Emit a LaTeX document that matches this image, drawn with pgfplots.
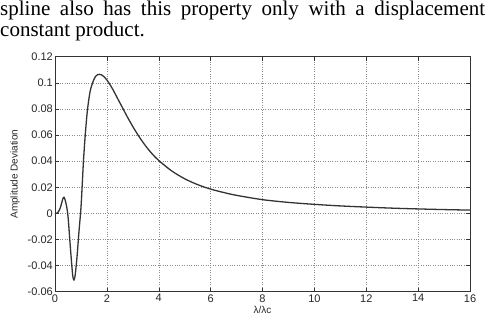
\documentclass[border=0pt]{standalone}
\usepackage{fontspec}
\setmainfont{Liberation Serif}
\newfontfamily\plotfont{Liberation Sans}
\usepackage{pgfplots}
\pgfplotsset{compat=1.18}
\begin{document}
\begin{tikzpicture}
\path[use as bounding box] (0,0) rectangle (485bp,315bp);
\node[anchor=base west, inner sep=0pt] at (0bp,299bp) {\fontsize{21bp}{21bp}\selectfont\makebox[485bp][s]{spline also has this property only with a displacement}};
\node[anchor=base west, inner sep=0pt] at (0bp,278bp) {\fontsize{21bp}{21bp}\selectfont constant product.};
\begin{axis}[
  at={(55bp,23.3bp)}, anchor=south west,
  scale only axis, width=415bp, height=235bp,
  xmin=0, xmax=16, ymin=-0.06, ymax=0.12,
  xtick={0,2,...,16},
  xticklabels={0,2,4,6,8,10,12,14,16},
  ytick={-0.06,-0.04,-0.02,0,0.02,0.04,0.06,0.08,0.1,0.12},
  yticklabels={-0.06,-0.04,-0.02,0,0.02,0.04,0.06,0.08,0.1,0.12},
  tick label style={font=\fontsize{11bp}{12bp}\plotfont, text=black!85},
  yticklabel style={inner sep=2bp},
  xticklabel style={inner sep=2.5bp},
  tick align=inside, major tick length=4bp,
  tick style={black!80, line width=0.5pt},
  axis line style={black!80, line width=0.6pt},
  grid=major,
  major grid style={dotted, black!45, line width=0.5pt},
  xlabel={λ/λc},
  ylabel={Amplitude Deviation},
  xlabel style={font=\fontsize{10bp}{11bp}\plotfont, text=black!85, at={(axis description cs:0.5,-0.076)}, anchor=center},
  ylabel style={font=\fontsize{10bp}{11bp}\plotfont, text=black!85, at={(axis description cs:-0.0964,0.5)}, anchor=center},
]
\addplot[color=black!80, line width=1.3pt, smooth, tension=0.5] coordinates {
(0,0) (0.1,0.0004) (0.2,0.004) (0.3,0.011) (0.35,0.0123) (0.42,0.008)
(0.5,-0.002) (0.6,-0.028) (0.68,-0.047) (0.73,-0.051) (0.78,-0.047)
(0.85,-0.033) (0.92,-0.015) (1.0,0.004) (1.05,0.022) (1.1,0.041)
(1.17,0.061) (1.25,0.079) (1.35,0.093) (1.45,0.100) (1.55,0.1045)
(1.65,0.1063) (1.72,0.1065) (1.8,0.106) (1.9,0.1045) (2.0,0.1022) (2.2,0.096) (2.4,0.0885)
(2.6,0.081) (2.8,0.0735) (3.0,0.0665) (3.25,0.0585) (3.5,0.0515)
(3.75,0.0455) (4.0,0.0405) (4.5,0.0325) (5.0,0.0265) (5.5,0.022)
(6.0,0.0186) (6.5,0.016) (7,0.0138) (8,0.0105) (9,0.0084) (10,0.0069)
(11,0.0057) (12,0.0048) (13,0.0040) (14,0.0034) (15,0.0029) (16,0.0025)
};
\end{axis}
\end{tikzpicture}
\end{document}
